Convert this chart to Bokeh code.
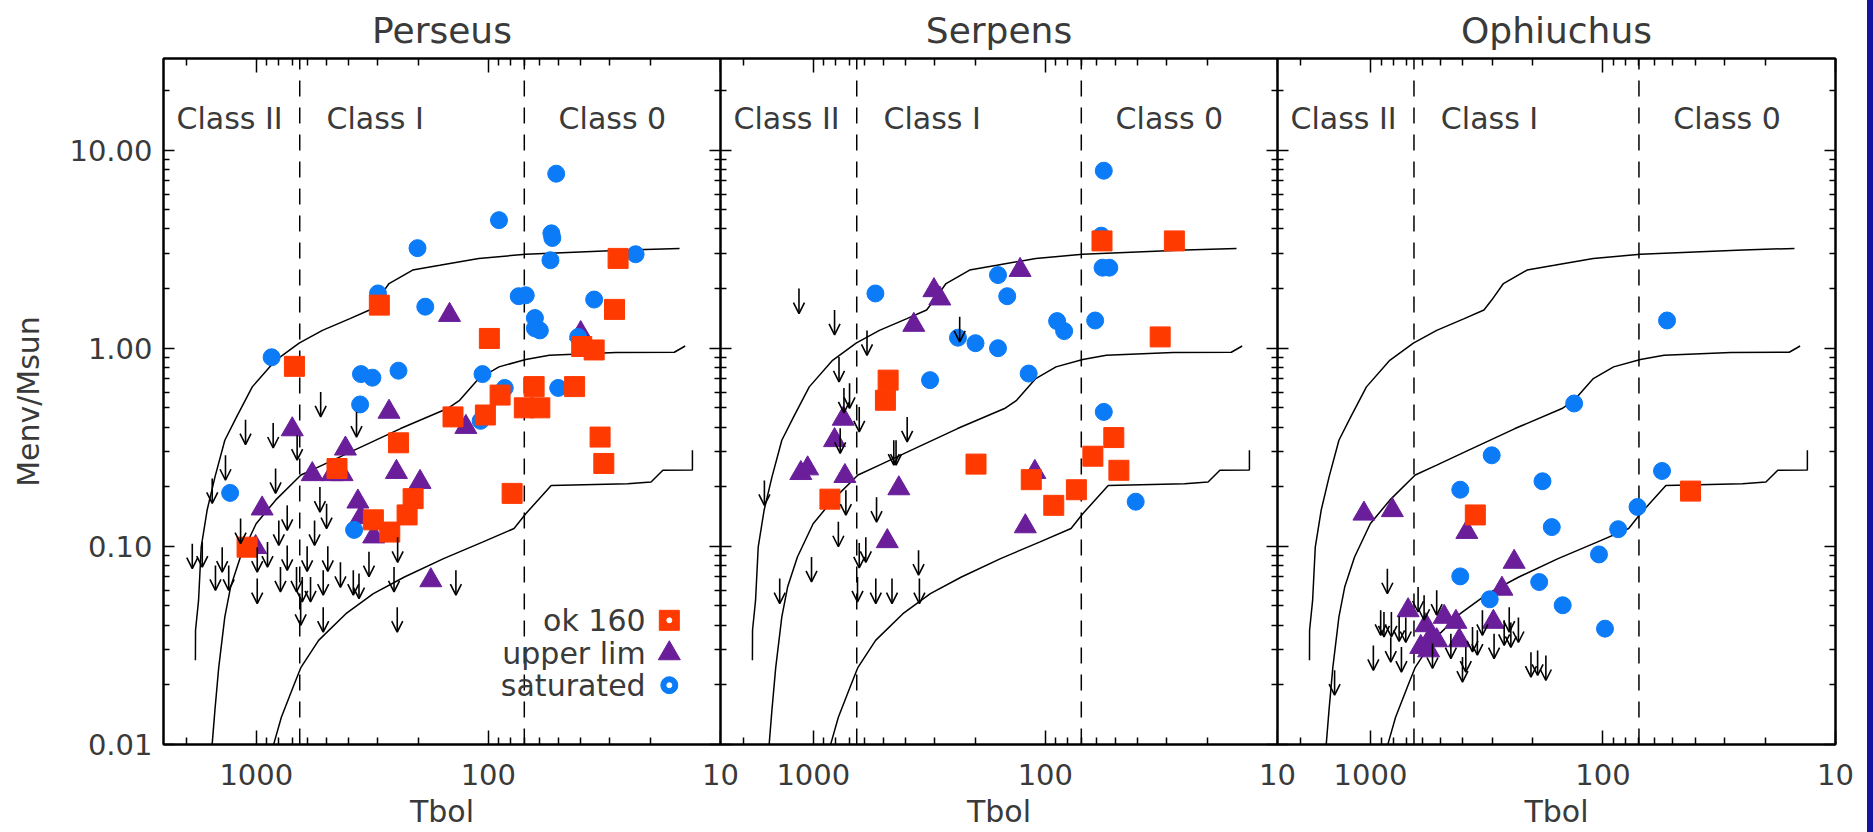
from bokeh.plotting import figure
from bokeh.layouts import row
from bokeh.models import (Range1d, FixedTicker, LogAxis, NumeralTickFormatter,
                          ColumnDataSource, Arrow, OpenHead, Spacer)
from bokeh.core.properties import value
from bokeh.embed import file_html
from bokeh.resources import INLINE

# ---------------- data ----------------
REGIONS = ["Perseus", "Serpens", "Ophiuchus"]

# Perseus
PER_SAT_T = [51, 90, 53.5, 53, 202, 23.2, 54, 299, 74, 69, 35, 187, 63, 63, 60, 41,
             859, 354, 316, 244, 106, 50, 85, 357, 108, 1297, 379]
PER_SAT_M = [7.6, 4.43, 3.8, 3.6, 3.2, 2.98, 2.78, 1.89, 1.83, 1.85, 1.76, 1.62, 1.42, 1.26, 1.23, 1.14,
             0.90, 0.74, 0.71, 0.77, 0.74, 0.63, 0.63, 0.52, 0.43, 0.186, 0.121]
PER_OK_T = [27.6, 295, 28.6, 99, 39.6, 35, 685, 42.5, 63.5, 89, 142, 103, 70, 60, 33, 31.8,
            244, 449, 79, 211, 224, 313, 266, 1096]
PER_OK_M = [2.84, 1.65, 1.57, 1.12, 1.02, 0.98, 0.81, 0.64, 0.64, 0.58, 0.45, 0.46, 0.50, 0.50, 0.356, 0.262,
            0.333, 0.247, 0.185, 0.174, 0.144, 0.136, 0.118, 0.099]
PER_UL_T = [147, 40, 268, 125, 700, 413, 574, 471, 427, 249, 197, 365, 944, 312, 1007, 177, 355]
PER_UL_M = [1.47, 1.19, 0.477, 0.40, 0.389, 0.311, 0.231, 0.231, 0.231, 0.237, 0.211, 0.168, 0.155, 0.112,
            0.099, 0.0673, 0.14]
PER_ARR_T = [528, 370, 1113, 846, 667, 1358, 826, 1549, 532, 498, 736, 1169, 800, 561, 246, 1888, 1710,
             1403, 991, 895, 736, 604, 492, 434, 382, 327, 1500, 1315, 991, 787, 671, 634, 515, 255, 138,
             644, 515, 247, 361, 584]
PER_ARR_M = [0.601, 0.476, 0.436, 0.419, 0.364, 0.288, 0.247, 0.220, 0.199, 0.164, 0.161, 0.138, 0.135,
             0.135, 0.111, 0.103, 0.105, 0.099, 0.099, 0.105, 0.101, 0.100, 0.100, 0.083, 0.0757, 0.094,
             0.080, 0.080, 0.0687, 0.0787, 0.0787, 0.070, 0.0757, 0.0787, 0.0757, 0.0533, 0.0493, 0.0493,
             0.0728, 0.070]

# Serpens
SER_SAT_T = [56, 57.4, 56.7, 53, 160, 540, 146, 89, 83, 61, 238, 200, 160, 314, 118, 56, 40.8]
SER_SAT_M = [7.87, 3.7, 2.55, 2.55, 2.34, 1.89, 1.83, 1.37, 1.22, 1.38, 1.13, 1.06, 1.0, 0.69, 0.745,
             0.477, 0.168]
SER_OK_T = [57, 27.8, 32, 476, 489, 50.7, 62.4, 48.2, 199, 115, 73.5, 92, 848]
SER_OK_M = [3.48, 3.48, 1.14, 0.69, 0.546, 0.354, 0.285, 0.242, 0.26, 0.217, 0.193, 0.161, 0.173]
SER_UL_T = [128.5, 302, 285, 369, 743, 810, 1132, 1058, 731, 428, 111, 122, 480]
SER_UL_M = [2.48, 1.96, 1.78, 1.31, 0.44, 0.343, 0.234, 0.247, 0.226, 0.196, 0.237, 0.126, 0.106]
SER_ARR_T = [1153, 810, 587, 775, 698, 738, 234, 634, 394, 766, 450, 440, 1625, 724, 534, 780, 634, 594,
             1018, 352, 1396, 645, 538, 458, 349]
SER_ARR_M = [2.0, 1.56, 1.23, 0.904, 0.665, 0.63, 1.44, 0.505, 0.45, 0.394, 0.343, 0.343, 0.215, 0.192,
             0.177, 0.133, 0.104, 0.111, 0.0883, 0.0955, 0.0687, 0.070, 0.0687, 0.0687, 0.0687]

# Ophiuchus
OPH_SAT_T = [53, 133, 301, 411, 182, 55.7, 71, 166, 86, 104, 411, 188, 307, 149, 98]
OPH_SAT_M = [1.38, 0.526, 0.288, 0.193, 0.213, 0.24, 0.158, 0.125, 0.122, 0.091, 0.0705, 0.066, 0.054,
             0.0504, 0.0384]
OPH_OK_T = [354, 42]
OPH_OK_M = [0.144, 0.19]
OPH_UL_T = [1067, 805, 385, 241, 272, 689, 296, 482, 429, 578, 550, 608, 415, 519, 562]
OPH_UL_M = [0.146, 0.152, 0.118, 0.0834, 0.061, 0.0475, 0.0415, 0.044, 0.0415, 0.0399, 0.0348, 0.031,
            0.0335, 0.0335, 0.0298]
OPH_ARR_T = [846, 1427, 875, 813, 753, 705, 624, 588, 519, 972, 736, 818, 541, 402, 389, 451, 364, 330,
             294, 266, 253, 231, 249, 204, 191, 176, 904, 347]
OPH_ARR_M = [0.077, 0.0237, 0.0466, 0.0466, 0.0443, 0.0437, 0.0623, 0.0566, 0.060, 0.0316, 0.031, 0.0348,
             0.0323, 0.0276, 0.031, 0.0362, 0.0392, 0.0475, 0.0362, 0.0423, 0.0493, 0.0437, 0.0413, 0.0292,
             0.0298, 0.0281, 0.0475, 0.0377]

# evolutionary tracks (same in every panel)
TRACK1_T = [1830, 1828, 1774, 1728, 1630, 1507, 1367, 1216, 1041, 826, 654, 519, 395, 325, 301, 268, 212,
            162, 110, 69, 25, 15]
TRACK1_M = [0.0266, 0.0377, 0.0533, 0.099, 0.152, 0.224, 0.343, 0.45, 0.638, 0.869, 1.06, 1.23, 1.41, 1.56,
            1.75, 2.12, 2.48, 2.62, 2.84, 2.98, 3.13, 3.19]
TRACK2_T = [1550, 1508, 1452, 1367, 1291, 1171, 1002, 826, 642, 519, 380, 239, 150, 133, 110, 90, 69, 54.6,
            28.2, 15.8, 14.3, 14.2]
TRACK2_M = [0.0100, 0.0149, 0.0245, 0.044, 0.0623, 0.0883, 0.130, 0.171, 0.229, 0.257, 0.305, 0.393, 0.496,
            0.546, 0.703, 0.805, 0.877, 0.922, 0.951, 0.954, 1.02, 1.03]
TRACK3_T = [842, 780, 694, 642, 539, 411, 313, 230, 156, 106, 77.5, 69, 53.6, 25.1, 19.9, 17.7, 13.2, 13.2]
TRACK3_M = [0.0100, 0.0137, 0.0195, 0.0245, 0.0335, 0.0457, 0.0577, 0.070, 0.0867, 0.105, 0.123, 0.146,
            0.203, 0.207, 0.211, 0.242, 0.243, 0.305]

CLASS_BOUNDS = [650, 70]
CLASS_LABELS = ["Class II", "Class I", "Class 0"]
LEGEND_LABELS = ["ok 160", "upper lim", "saturated"]

X_MAJOR = [1000, 100, 10]
X_MINOR = [2000, 900, 800, 700, 600, 500, 400, 300, 200, 90, 80, 70, 60, 50, 40, 30, 20]
Y_MAJOR = [0.01, 0.1, 1, 10]
Y_MINOR = [0.02, 0.03, 0.04, 0.05, 0.06, 0.07, 0.08, 0.09, 0.2, 0.3, 0.4, 0.5, 0.6, 0.7, 0.8, 0.9,
           2, 3, 4, 5, 6, 7, 8, 9, 20]

# ---------------- style ----------------
FONT = "DejaVu Sans"
TXT = "#3a3a3a"
RED = "#ff3a00"
PURPLE = "#6a1e9a"
BLUE = "#0b7bf8"
STRIP = "#14149e"
X_START, X_END = 2512, 9.99
Y_START, Y_END = 0.00999, 29.0
ARROW_DEX = 0.126

CLASS_LABEL_T = [2208, 498, 49.8]
CLASS_LABEL_M = 14.5
LEGEND_TEXT_T = 21
LEGEND_MARK_T = 16.6
LEGEND_M = [0.0423, 0.0288, 0.0199]

DATA = {
    "Perseus": (PER_OK_T, PER_OK_M, PER_UL_T, PER_UL_M, PER_SAT_T, PER_SAT_M, PER_ARR_T, PER_ARR_M),
    "Serpens": (SER_OK_T, SER_OK_M, SER_UL_T, SER_UL_M, SER_SAT_T, SER_SAT_M, SER_ARR_T, SER_ARR_M),
    "Ophiuchus": (OPH_OK_T, OPH_OK_M, OPH_UL_T, OPH_UL_M, OPH_SAT_T, OPH_SAT_M, OPH_ARR_T, OPH_ARR_M),
}


def style_axis(ax, tick_in, minor_in, labels):
    ax.axis_line_color = "black"
    ax.axis_line_width = 2
    ax.major_tick_line_color = "black"
    ax.minor_tick_line_color = "black"
    ax.major_tick_line_width = 1.5
    ax.minor_tick_line_width = 1.5
    ax.major_tick_out = 0
    ax.minor_tick_out = 0
    ax.major_tick_in = tick_in
    ax.minor_tick_in = minor_in
    ax.major_label_text_font = FONT
    if labels:
        ax.major_label_text_font_size = "29px"
        ax.major_label_text_color = TXT
    else:
        ax.major_label_text_font_size = "1px"
        ax.major_label_text_color = None
        ax.major_label_standoff = 0


def make_panel(name, idx):
    first = idx == 0
    last = idx == 2
    p = figure(x_axis_type="log", y_axis_type="log",
               x_range=Range1d(X_START, X_END), y_range=Range1d(Y_START, Y_END),
               frame_width=558 if last else 557, frame_height=686,
               min_border_left=163 if first else 0, min_border_right=32 if last else 20,
               min_border_top=58, min_border_bottom=88,
               output_backend="svg", toolbar_location=None, title=name)
    p.grid.visible = False
    p.outline_line_color = "black"
    p.outline_line_width = 2
    p.background_fill_color = "white"
    p.border_fill_color = "white" if first else None
    if not last:
        p.margin = (0, -20, 0, 0)

    p.title.align = "center"
    p.title.text_font = FONT
    p.title.text_font_size = "36px"
    p.title.text_font_style = "normal"
    p.title.text_color = TXT
    p.title.standoff = 15

    xt = FixedTicker(ticks=X_MAJOR, minor_ticks=X_MINOR)
    yt = FixedTicker(ticks=Y_MAJOR, minor_ticks=Y_MINOR)

    xa = p.xaxis[0]
    xa.ticker = xt
    xa.formatter = NumeralTickFormatter(format="0")
    style_axis(xa, 14, 7, True)
    xa.major_label_standoff = 19
    xa.axis_label = "Tbol"
    xa.axis_label_text_font = FONT
    xa.axis_label_text_font_size = "30px"
    xa.axis_label_text_font_style = "normal"
    xa.axis_label_text_color = TXT
    xa.axis_label_standoff = 6

    ya = p.yaxis[0]
    ya.ticker = yt
    ya.formatter = NumeralTickFormatter(format="0.00")
    style_axis(ya, 11, 6, first)
    if first:
        ya.major_label_standoff = 11
        ya.axis_label = "Menv/Msun"
        ya.axis_label_text_font = FONT
        ya.axis_label_text_font_size = "30px"
        ya.axis_label_text_font_style = "normal"
        ya.axis_label_text_color = TXT
        ya.axis_label_standoff = 20

    top = LogAxis(ticker=FixedTicker(ticks=X_MAJOR, minor_ticks=X_MINOR))
    style_axis(top, 14, 7, False)
    p.add_layout(top, "above")
    right = LogAxis(ticker=FixedTicker(ticks=Y_MAJOR, minor_ticks=Y_MINOR))
    style_axis(right, 11, 6, False)
    p.add_layout(right, "right")

    # tracks
    for tt, tm in ((TRACK1_T, TRACK1_M), (TRACK2_T, TRACK2_M), (TRACK3_T, TRACK3_M)):
        p.line(tt, tm, line_color="black", line_width=1.5)
    # class boundaries
    p.segment(x0=CLASS_BOUNDS, y0=[Y_START] * 2, x1=CLASS_BOUNDS, y1=[Y_END] * 2,
              line_color="black", line_width=1.5, line_dash="16 11")
    p.text(x=CLASS_LABEL_T, y=[CLASS_LABEL_M] * 3, text=CLASS_LABELS,
           text_font=value(FONT), text_font_size="30px", text_color=TXT,
           text_align="left", text_baseline="middle")

    ok_t, ok_m, ul_t, ul_m, sat_t, sat_m, arr_t, arr_m = DATA[name]

    src = ColumnDataSource(dict(x=arr_t, y=arr_m, ye=[m * 10 ** (-ARROW_DEX) for m in arr_m]))
    p.add_layout(Arrow(x_start="x", y_start="y", x_end="x", y_end="ye", source=src,
                       line_color="black", line_width=1.6,
                       end=OpenHead(size=11, line_color="black", line_width=1.6)))

    p.scatter(ul_t, ul_m, marker="triangle", size=22, fill_color=PURPLE, line_color=PURPLE)
    p.scatter(sat_t, sat_m, marker="circle", size=17, fill_color=BLUE, line_color=BLUE)
    p.scatter(ok_t, ok_m, marker="square", size=20, fill_color=RED, line_color=RED)

    if first:
        p.text(x=[LEGEND_TEXT_T] * 3, y=LEGEND_M, text=LEGEND_LABELS,
               text_font=value(FONT), text_font_size="30px", text_color=TXT,
               text_align="right", text_baseline="middle")
        p.scatter([LEGEND_MARK_T], [LEGEND_M[0]], marker="square", size=20, fill_color=RED, line_color=RED)
        p.scatter([LEGEND_MARK_T], [LEGEND_M[1]], marker="triangle", size=22, fill_color=PURPLE,
                  line_color=PURPLE)
        p.scatter([LEGEND_MARK_T], [LEGEND_M[2]], marker="circle", size=17, fill_color=BLUE, line_color=BLUE)
        p.scatter([LEGEND_MARK_T, LEGEND_MARK_T], [LEGEND_M[0], LEGEND_M[2]], marker="circle", size=5,
                  fill_color="white", line_color="white")
    return p


panels = [make_panel(n, i) for i, n in enumerate(REGIONS)]
strip = Spacer(width=6, height=832, styles={"background-color": STRIP})
layout = row(*panels, strip, spacing=0)

open("out.html", "w").write(file_html(layout, INLINE))
